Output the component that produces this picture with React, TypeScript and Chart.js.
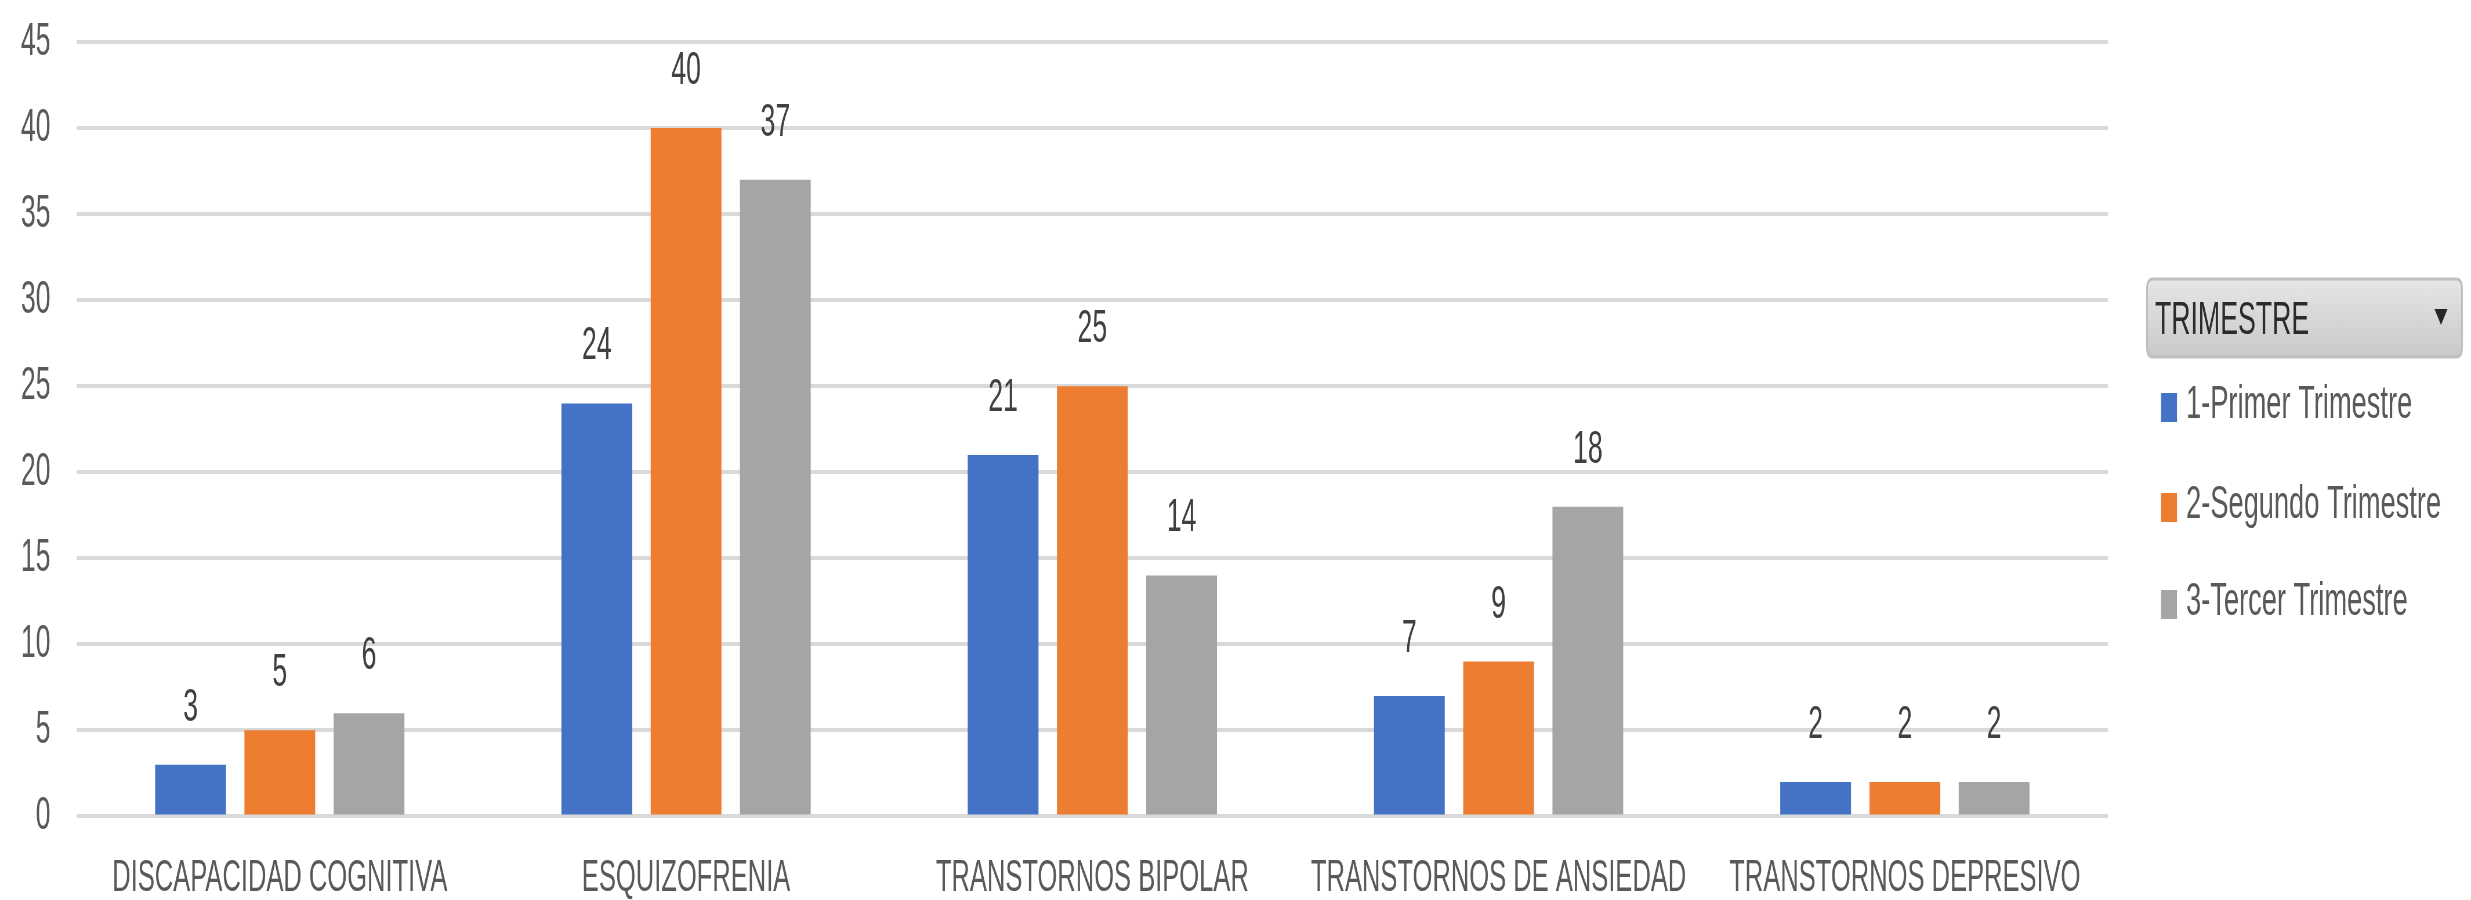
import React, { useEffect, useRef } from 'react';
import { Chart, registerables } from 'chart.js';

Chart.register(...registerables);

// ---- data ----
const categories = [
  'DISCAPACIDAD COGNITIVA',
  'ESQUIZOFRENIA',
  'TRANSTORNOS BIPOLAR',
  'TRANSTORNOS DE ANSIEDAD',
  'TRANSTORNOS DEPRESIVO',
];
const primerTrimestre = [3, 24, 21, 7, 2];
const segundoTrimestre = [5, 40, 25, 9, 2];
const tercerTrimestre = [6, 37, 14, 18, 2];
const seriesNames = ['1-Primer Trimestre', '2-Segundo Trimestre', '3-Tercer Trimestre'];
const seriesColors = ['#4472C4', '#ED7D31', '#A5A5A5'];
const legendTitle = 'TRIMESTRE';
const yMin = 0;
const yMax = 45;
const yStep = 5;

// ---- geometry (the chart is drawn wide and squeezed horizontally) ----
const OUT_W = 2471;
const OUT_H = 900;
const IN_W = 4260;
const SX = OUT_W / IN_W;
const FONT = "'Liberation Sans', Arial, sans-serif";

const ix = (finalX: number) => finalX / SX;

const dataLabelPlugin = {
  id: 'dataLabels',
  afterDatasetsDraw(chart: any) {
    const ctx = chart.ctx;
    ctx.save();
    ctx.font = `46px ${FONT}`;
    ctx.fillStyle = '#404040';
    ctx.textAlign = 'center';
    ctx.textBaseline = 'alphabetic';
    chart.data.datasets.forEach((ds: any, di: number) => {
      const meta = chart.getDatasetMeta(di);
      meta.data.forEach((el: any, i: number) => {
        ctx.fillText(String(ds.data[i]), el.x, el.y - 44);
      });
    });
    ctx.restore();
  },
};

const pivotLegendPlugin = {
  id: 'pivotLegend',
  afterDraw(chart: any) {
    const ctx = chart.ctx;
    ctx.save();
    // filter button
    const bx = ix(2147);
    const bw = ix(2462) - bx;
    const by = 279;
    const bh = 78;
    const r = 10;
    const grad = ctx.createLinearGradient(0, by, 0, by + bh);
    grad.addColorStop(0, '#e6e6e6');
    grad.addColorStop(1, '#c9c9c9');
    ctx.beginPath();
    ctx.moveTo(bx + r, by);
    ctx.lineTo(bx + bw - r, by);
    ctx.quadraticCurveTo(bx + bw, by, bx + bw, by + r);
    ctx.lineTo(bx + bw, by + bh - r);
    ctx.quadraticCurveTo(bx + bw, by + bh, bx + bw - r, by + bh);
    ctx.lineTo(bx + r, by + bh);
    ctx.quadraticCurveTo(bx, by + bh, bx, by + bh - r);
    ctx.lineTo(bx, by + r);
    ctx.quadraticCurveTo(bx, by, bx + r, by);
    ctx.closePath();
    ctx.fillStyle = grad;
    ctx.fill();
    ctx.lineWidth = 3;
    ctx.strokeStyle = '#bfbfbf';
    ctx.stroke();

    ctx.font = `46px ${FONT}`;
    ctx.fillStyle = '#2b2b2b';
    ctx.textAlign = 'left';
    ctx.textBaseline = 'alphabetic';
    ctx.fillText(legendTitle, ix(2155), 334);

    // dropdown arrow
    const ax = ix(2441);
    const aw = ix(6.5);
    ctx.beginPath();
    ctx.moveTo(ax - aw, 309);
    ctx.lineTo(ax + aw, 309);
    ctx.lineTo(ax, 325);
    ctx.closePath();
    ctx.fillStyle = '#262626';
    ctx.fill();

    // items
    const baselines = [418, 518, 615];
    chart.data.datasets.forEach((ds: any, i: number) => {
      const base = baselines[i];
      ctx.fillStyle = ds.backgroundColor;
      ctx.fillRect(ix(2161), base - 25, ix(16), 29);
      ctx.fillStyle = '#595959';
      ctx.font = `47px ${FONT}`;
      ctx.fillText(ds.label, ix(2186), base);
    });
    ctx.restore();
  },
};

export default function App() {
  const canvasRef = useRef<HTMLCanvasElement | null>(null);

  useEffect(() => {
    document.body.style.margin = '0';
    const canvas = canvasRef.current;
    if (!canvas) return;
    const series = [primerTrimestre, segundoTrimestre, tercerTrimestre];
    const chart = new Chart(canvas, {
      type: 'bar',
      data: {
        labels: categories,
        datasets: series.map((d, i) => ({
          label: seriesNames[i],
          data: d,
          backgroundColor: seriesColors[i],
          borderWidth: 0,
          categoryPercentage: 0.659,
          barPercentage: 0.793,
        })),
      },
      options: {
        responsive: false,
        animation: false,
        devicePixelRatio: 1,
        layout: {
          padding: { top: 42, left: 26, right: IN_W - ix(2108), bottom: -42 },
        },
        plugins: {
          legend: { display: false },
          tooltip: { enabled: false },
        },
        scales: {
          x: {
            grid: { display: false, drawTicks: false },
            border: { display: false },
            ticks: {
              color: '#595959',
              font: { family: FONT, size: 44, lineHeight: 0.9 },
              padding: 43,
              maxRotation: 0,
              autoSkip: false,
            },
          },
          y: {
            min: yMin,
            max: yMax,
            grid: {
              color: '#d9d9d9',
              lineWidth: 4,
              drawTicks: true,
              tickLength: 35,
              tickColor: 'rgba(0,0,0,0)',
            },
            border: { display: false },
            ticks: {
              stepSize: yStep,
              color: '#595959',
              font: { family: FONT, size: 46 },
              padding: 10,
            },
          },
        },
      },
      plugins: [dataLabelPlugin, pivotLegendPlugin],
    });
    return () => chart.destroy();
  }, []);

  return (
    <div
      style={{
        position: 'fixed',
        left: 0,
        top: 0,
        width: OUT_W,
        height: OUT_H,
        overflow: 'hidden',
        background: '#ffffff',
      }}
    >
      <div
        style={{
          width: IN_W,
          height: OUT_H,
          transform: `scaleX(${SX})`,
          transformOrigin: '0 0',
        }}
      >
        <canvas ref={canvasRef} width={IN_W} height={OUT_H} style={{ display: 'block' }} />
      </div>
    </div>
  );
}
